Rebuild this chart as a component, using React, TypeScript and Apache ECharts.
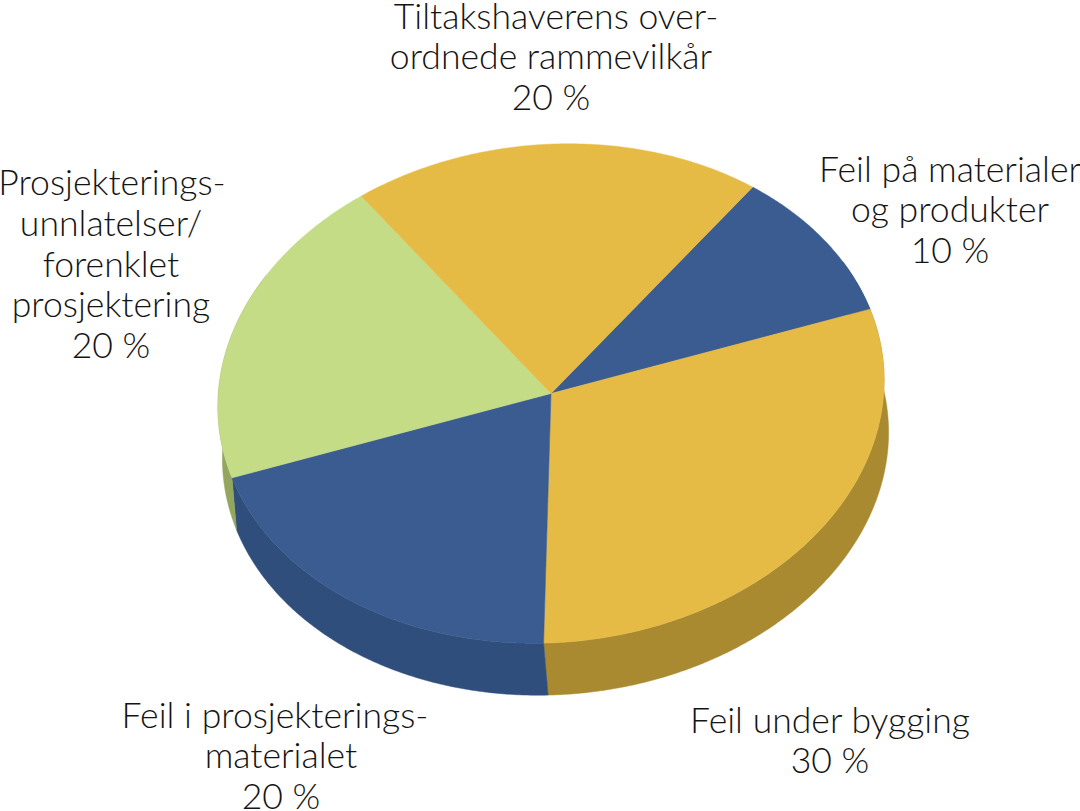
import React, { useEffect, useRef } from "react";
import * as echarts from "echarts";

const categories = [
  ["Feil på materialer", "og produkter"],
  ["Feil under bygging"],
  ["Feil i prosjekterings-", "materialet"],
  ["Prosjekterings-", "unnlatelser/", "forenklet", "prosjektering"],
  ["Tiltakshaverens over-", "ordnede rammevilkår"],
];
const shares = [10, 30, 20, 20, 20];
const topColors = ["#3B5C90", "#E6BB45", "#3B5C90", "#C5DC87", "#E6BB45"];
const sideColors = ["#2F4E7B", "#A98A30", "#2F4E7B", "#94A65E", "#A98A30"];
// centre x and first-line centre y of each label
const labelAnchors = [
  [950, 168],
  [830, 719],
  [281, 714],
  [111, 181.5],
  [551, 15],
];
// hanging hyphen: first line of some labels sits slightly off the block's centre
const firstLineShift = [0, 0, -6, 1, 5];

const START_ANGLE = 36;
const CENTER = [551, 393.5];
const DEPTH = [4.5, 52];
const AXES = { a: 333, b: 7.4, c: 249.6, d: 7.6 };
const SIDE_RANGE = [60, 300];
const FONT = "Lato";
const FONT_SIZE = 35.6;
const LINE_HEIGHT = 40.8;

const pt = (t: number, off = [0, 0]) => {
  const r = (t * Math.PI) / 180;
  const s = Math.sin(r);
  const c = Math.cos(r);
  return [
    CENTER[0] + off[0] + AXES.a * s + AXES.b * c,
    CENTER[1] + off[1] - AXES.c * c - AXES.d * s,
  ];
};
const arc = (a: number, b: number, off = [0, 0]) => {
  const n = Math.max(2, Math.ceil(Math.abs(b - a) * 2));
  const out: number[][] = [];
  for (let i = 0; i <= n; i++) out.push(pt(a + ((b - a) * i) / n, off));
  return out;
};
const total = shares.reduce((s, v) => s + v, 0);
const bounds = (idx: number) => {
  const before = shares.slice(0, idx).reduce((s, v) => s + v, 0);
  const a = START_ANGLE + (before / total) * 360;
  return [a, a + (shares[idx] / total) * 360];
};

export default function App() {
  const ref = useRef<HTMLDivElement>(null);
  useEffect(() => {
    document.body.style.margin = "0";
    document.body.style.overflow = "hidden";
    const chart = echarts.init(ref.current!, null, { renderer: "svg" });
    const data = shares.map((v, i) => ({ value: v, name: categories[i].join(" ") }));
    const texts: any[] = [];
    categories.forEach((lines, i) => {
      [...lines, `${shares[i]} %`].forEach((line, j) => {
        texts.push({
          type: "text",
          x: labelAnchors[i][0] + (j === 0 ? firstLineShift[i] : 0),
          y: labelAnchors[i][1] + j * LINE_HEIGHT,
          silent: true,
          z: 10,
          style: {
            text: line,
            fill: "#141414",
            font: `300 ${FONT_SIZE}px ${FONT}`,
            align: "center",
            verticalAlign: "middle",
          },
        });
      });
    });
    chart.setOption({
      animation: false,
      backgroundColor: "#ffffff",
      series: [
        {
          type: "custom",
          coordinateSystem: "none",
          silent: true,
          z: 1,
          data,
          renderItem: (p: any) => {
            const [a, b] = bounds(p.dataIndex);
            const s = Math.max(a, SIDE_RANGE[0]);
            const e = Math.min(b, SIDE_RANGE[1]);
            if (e <= s) return { type: "group", children: [] };
            const points = [...arc(s, e), ...arc(e, s, DEPTH)];
            const fill = sideColors[p.dataIndex];
            return {
              type: "polygon",
              shape: { points },
              style: { fill, stroke: fill, lineWidth: 0.5 },
            };
          },
        },
        {
          type: "custom",
          coordinateSystem: "none",
          silent: true,
          z: 2,
          data,
          renderItem: (p: any) => {
            const [a, b] = bounds(p.dataIndex);
            const points = [CENTER, ...arc(a, b)];
            const fill = topColors[p.dataIndex];
            return {
              type: "polygon",
              shape: { points },
              style: { fill, stroke: fill, lineWidth: 0.5 },
            };
          },
        },
      ],
      graphic: texts,
    });
    return () => chart.dispose();
  }, []);
  return <div ref={ref} style={{ width: 1080, height: 811 }} />;
}
